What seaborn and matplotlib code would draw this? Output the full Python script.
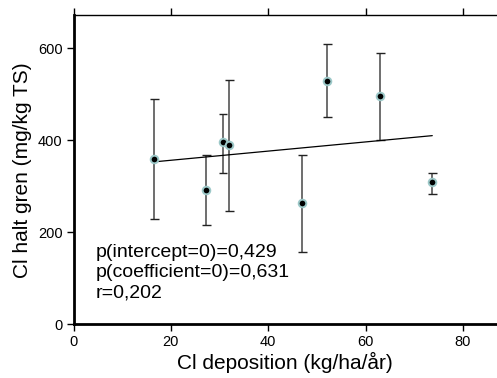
import matplotlib
matplotlib.use("Agg")
import matplotlib.pyplot as plt
import seaborn as sns
import numpy as np
import pandas as pd

# Data
deposition = [16.6, 27.3, 30.7, 32.0, 47.0, 52.1, 63.0, 73.7]
cl_content = [359, 293, 396, 390, 263, 530, 496, 309]
err_low = [228, 216, 330, 246, 158, 450, 400, 284]
err_high = [490, 369, 457, 531, 368, 609, 590, 330]
stats_text = ["p(intercept=0)=0,429", "p(coefficient=0)=0,631", "r=0,202"]
x_ticks = [0, 20, 40, 60, 80]
y_ticks = [0, 200, 400, 600]

df = pd.DataFrame({"x": deposition, "y": cl_content,
                   "lo": err_low, "hi": err_high})

sns.set_theme(style="white")
plt.rcParams["font.family"] = ["Liberation Sans", "DejaVu Sans"]

fig = plt.figure(figsize=(4.97, 3.78), dpi=100)
ax = fig.add_axes([0.148, 0.142, 0.852, 0.8175])

# error bars
ax.vlines(df["x"], df["lo"], df["hi"], color="#6e6e6e", lw=1.4, zorder=2)
ax.hlines(df["lo"], df["x"] - 0.9, df["x"] + 0.9, color="#222222", lw=1.0, zorder=2)
ax.hlines(df["hi"], df["x"] - 0.9, df["x"] + 0.9, color="#222222", lw=1.0, zorder=2)

# regression line
sns.regplot(data=df, x="x", y="y", ci=None, truncate=True, scatter=False,
            ax=ax, line_kws=dict(color="black", lw=0.9, zorder=3))

# points
sns.scatterplot(data=df, x="x", y="y", ax=ax, s=30, color="black",
                edgecolor="#9cc8c8", linewidth=1.4, zorder=4, legend=False)

ax.set_xlim(0, 87)
ax.set_ylim(0, 672)
ax.set_xticks(x_ticks)
ax.set_yticks(y_ticks)
ax.tick_params(axis="both", direction="out", length=5, width=1, color="black",
               labelsize=10.5, labelcolor="black", pad=3, left=True, bottom=True)
ax.tick_params(axis="x", which="major", top=True, labeltop=False)

for side in ["left", "bottom"]:
    ax.spines[side].set_linewidth(2.0)
    ax.spines[side].set_color("black")
ax.spines["top"].set_linewidth(1.0)
ax.spines["top"].set_color("black")
ax.spines["right"].set_visible(False)

ax.set_xlabel("Cl deposition (kg/ha/år)", fontsize=15, color="black", labelpad=2)
ax.set_ylabel("Cl halt gren (mg/kg TS)", fontsize=15, color="black", labelpad=4)

ax.text(4.5, 112, "\n".join(stats_text), fontsize=14, color="black",
        va="center", ha="left", linespacing=1.25)

fig.savefig("out.png", dpi=100)
